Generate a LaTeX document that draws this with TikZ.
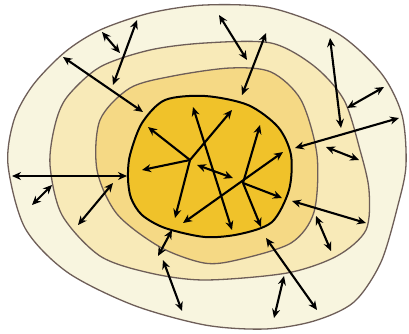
\documentclass[tikz,border=0pt]{standalone}
\usetikzlibrary{arrows.meta}
\definecolor{ringline}{HTML}{6E5E58}
\definecolor{cfour}{HTML}{F8F5DF}
\definecolor{cthree}{HTML}{F8EAB8}
\definecolor{ctwo}{HTML}{F5D985}
\definecolor{cone}{HTML}{F0C22A}
\begin{document}
\begin{tikzpicture}[x=1pt,y=-1pt,
  ring/.style={draw=ringline,line width=1.3pt},
  corering/.style={draw=black,line width=2pt,fill=cone},
  arr/.style={line width=2.1pt,{Stealth[length=9pt,width=8pt]}-{Stealth[length=9pt,width=8pt]}},
  outarr/.style={line width=2.1pt,-{Stealth[length=9pt,width=8pt]}}]
\fill[white] (0,0) rectangle (409,333);
\useasboundingbox (0,0) rectangle (409,333);
% rings
\draw[ring,fill=cfour] plot[smooth cycle] coordinates {(8,165) (14,120) (33,85) (65,52) (100,30) (150,13) (205,5) (271,8) (337,33) (381,73) (402,115) (406,165) (398,205) (381,262) (354,302) (314,321) (265,329) (205,325) (133,305) (67,272) (25,228)};
\draw[ring,fill=cthree] plot[smooth cycle] coordinates {(50,165) (55,125) (67,97) (100,67) (150,50) (205,43) (271,43) (314,66) (344,100) (360,150) (369,190) (366,230) (337,256) (287,273) (205,280) (150,273) (100,256) (62,215)};
\draw[ring,fill=ctwo] plot[smooth cycle] coordinates {(97,170) (100,120) (130,88) (173,76) (230,68) (271,72) (301,100) (317,155) (314,212) (291,243) (237,260) (204,263) (160,247) (117,214)};
\draw[corering] plot[smooth cycle] coordinates {(128,178) (130,155) (142,123) (165,100) (205,96) (248,105) (278,127) (291,155) (289,190) (272,222) (240,234) (205,237) (165,228) (142,215) (131,198)};
% core centres
\coordinate (A) at (190,160);
\coordinate (B) at (243,183);
\coordinate (a1) at (148,127);
\coordinate (a2) at (142,170);
\coordinate (a3) at (232,110);
\coordinate (a4) at (175,218);
\coordinate (b1) at (260,125);
\coordinate (b2) at (282,198);
\coordinate (b3) at (261,227);
\coordinate (m1) at (197,165);
\coordinate (m2) at (233,178);
\coordinate (l1) at (193,107);
\coordinate (l2) at (232,230);
\coordinate (d1) at (283,152);
\coordinate (d2) at (183,223);
\foreach \t in {a1,a2,a3,a4} \draw[outarr] (A) -- (\t);
\foreach \t in {b1,b2,b3} \draw[outarr] (B) -- (\t);
\draw[arr] (m1) -- (m2);
\draw[arr] (l1) -- (l2);
\draw[arr] (d1) -- (d2);
% outer arrows
\coordinate (pa1) at (102,32);  \coordinate (pa2) at (120,53);
\coordinate (pb1) at (137,20);  \coordinate (pb2) at (113,85);
\coordinate (pc1) at (63,57);   \coordinate (pc2) at (143,112);
\coordinate (pd1) at (219,15);  \coordinate (pd2) at (247,60);
\coordinate (pe1) at (266,33);  \coordinate (pe2) at (242,95);
\coordinate (pf1) at (330,38);  \coordinate (pf2) at (341,128);
\coordinate (pg1) at (384,87);  \coordinate (pg2) at (347,108);
\coordinate (ph1) at (399,118); \coordinate (ph2) at (295,148);
\coordinate (pi1) at (326,147); \coordinate (pi2) at (359,160);
\coordinate (pj1) at (12,176);  \coordinate (pj2) at (127,176);
\coordinate (pk1) at (32,205);  \coordinate (pk2) at (52,185);
\coordinate (pl1) at (78,225);  \coordinate (pl2) at (113,183);
\coordinate (pm1) at (158,256); \coordinate (pm2) at (172,230);
\coordinate (pn1) at (163,260); \coordinate (pn2) at (182,311);
\coordinate (po1) at (292,201); \coordinate (po2) at (366,223);
\coordinate (pp1) at (316,216); \coordinate (pp2) at (331,251);
\coordinate (pq1) at (266,238); \coordinate (pq2) at (317,310);
\coordinate (pr1) at (284,276); \coordinate (pr2) at (274,318);
\foreach \p in {pa,pb,pc,pd,pe,pf,pg,ph,pi,pj,pk,pl,pm,pn,po,pp,pq,pr}
  \draw[arr] (\p1) -- (\p2);
\end{tikzpicture}
\end{document}
